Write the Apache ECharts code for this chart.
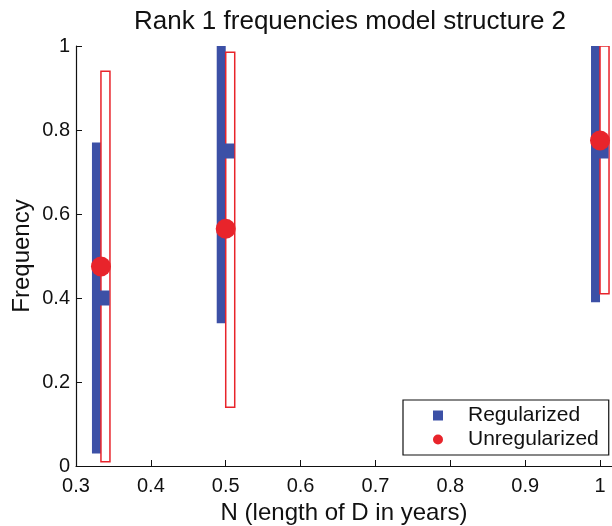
<!DOCTYPE html>
<html>
<head>
<meta charset="utf-8">
<script src="https://cdn.jsdelivr.net/npm/echarts@6/dist/echarts.min.js"></script>
<style>html,body{margin:0;padding:0;background:#fff;}#c{width:612px;height:526px;}</style>
</head>
<body>
<div id="c"></div>
<script>
const xValues = [1/3, 0.5, 1.0];
const regLow = [0.03, 0.34, 0.39];
const regHigh = [0.77, 1.0, 1.0];
const regMid = [0.40, 0.75, 0.75];
const unregLow = [0.01, 0.14, 0.41];
const unregHigh = [0.94, 0.985, 1.0];
const unregMid = [0.475, 0.565, 0.775];
const xTicks = [0.3, 0.4, 0.5, 0.6, 0.7, 0.8, 0.9, 1.0];
const yTicks = [0, 0.2, 0.4, 0.6, 0.8, 1];

const BLUE = '#3c50a6';
const RED = '#e8242b';
const FONT = 'Liberation Sans, Arial, sans-serif';

function barRender(side, filled) {
  return function (params, api) {
    const x = api.value(0);
    const top = api.coord([x, api.value(2)]);
    const bot = api.coord([x, api.value(1)]);
    const w = 9;
    const x0 = side < 0 ? top[0] - w : top[0];
    return {
      type: 'rect',
      shape: { x: x0, y: top[1], width: w, height: bot[1] - top[1] },
      style: filled ? { fill: BLUE } : { fill: '#fff', stroke: RED, lineWidth: 1.5 }
    };
  };
}

const chart = echarts.init(document.getElementById('c'), null, { renderer: 'canvas' });
chart.setOption({
  animation: false,
  title: {
    text: 'Rank 1 frequencies model structure 2',
    left: 345, top: 4, textAlign: 'center',
    textStyle: { fontFamily: FONT, fontSize: 26, fontWeight: 'normal', color: '#111' }
  },
  legend: {
    orient: 'vertical',
    left: 403, top: 400,
    padding: [5, 10, 5, 30],
    itemGap: 3,
    itemWidth: 10, itemHeight: 10,
    borderColor: '#111', borderWidth: 1.2,
    backgroundColor: '#fff',
    formatter: '{a|{name}}',
    textStyle: { fontFamily: FONT, fontSize: 21, color: '#111', rich: { a: { fontFamily: FONT, fontSize: 21, color: '#111', padding: [0, 0, 0, 20] } } },
    data: [
      { name: 'Regularized', icon: 'rect', itemStyle: { color: BLUE } },
      { name: 'Unregularized', icon: 'circle', itemStyle: { color: RED } }
    ]
  },
  grid: { left: 76, top: 46, bottom: 60, right: 0, containLabel: false, outerBoundsMode: 'none' },
  xAxis: {
    type: 'value', min: 0.3, max: 1.016,
    name: 'N (length of D in years)', nameLocation: 'middle', nameGap: 31,
    nameTextStyle: { fontFamily: FONT, fontSize: 24, color: '#111' },
    axisLine: { lineStyle: { color: '#111', width: 1.2 } },
    axisTick: { inside: true, length: 6, customValues: xTicks, lineStyle: { color: '#111' } },
    axisLabel: { customValues: xTicks, fontFamily: FONT, fontSize: 20, color: '#111', margin: 10,
      formatter: v => (Math.abs(v - 1) < 1e-9 ? '1' : v.toFixed(1)) },
    splitLine: { show: false }
  },
  yAxis: {
    type: 'value', min: 0, max: 1, interval: 0.2,
    name: 'Frequency', nameLocation: 'middle', nameGap: 42, nameMoveOverlap: false,
    nameTextStyle: { fontFamily: FONT, fontSize: 24, color: '#111' },
    axisLine: { show: true, lineStyle: { color: '#111', width: 1.2 } },
    axisTick: { show: true, inside: true, length: 6, lineStyle: { color: '#111' } },
    axisLabel: { fontFamily: FONT, fontSize: 20, color: '#111', margin: 6,
      formatter: v => (v === 0 ? '0' : v === 1 ? '1' : v.toFixed(1)) },
    splitLine: { show: false }
  },
  series: [
    {
      type: 'custom', name: 'regBar', renderItem: barRender(-1, true), z: 2,
      data: xValues.map((x, i) => [x, regLow[i], regHigh[i]]), clip: true
    },
    {
      type: 'custom', name: 'unregBar', renderItem: barRender(1, false), z: 3,
      data: xValues.map((x, i) => [x, unregLow[i], unregHigh[i]]), clip: true
    },
    {
      type: 'scatter', name: 'Regularized', symbol: 'rect', symbolSize: [17, 15], z: 4,
      itemStyle: { color: BLUE, opacity: 1 },
      data: xValues.map((x, i) => [x, regMid[i]])
    },
    {
      type: 'scatter', name: 'Unregularized', symbol: 'circle', symbolSize: 20, z: 5,
      itemStyle: { color: RED, opacity: 1 },
      data: xValues.map((x, i) => [x, unregMid[i]])
    }
  ]
});
</script>
</body>
</html>
